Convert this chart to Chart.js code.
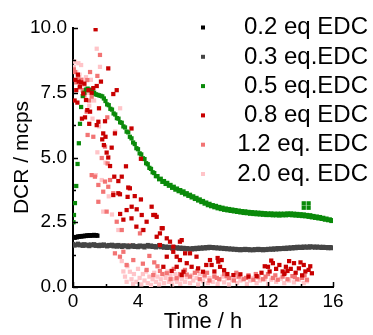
<!DOCTYPE html>
<html>
<head>
<meta charset="utf-8">
<script src="https://cdn.jsdelivr.net/npm/chart.js@4.4.1/dist/chart.umd.min.js"></script>
<style>
  html, body { margin: 0; padding: 0; background: #fff; }
  #dcrChart { display: block; }
</style>
</head>
<body>
<canvas id="dcrChart" width="373" height="335"></canvas>
<script>
// Series names and colours
const seriesLabels = ["0.2 eq EDC", "0.3 eq.EDC", "0.5 eq.EDC", "0.8 eq EDC", "1.2 eq. EDC", "2.0 eq. EDC"];
const seriesColors = ["#000000", "#454545", "#0a8a0a", "#c80000", "#f27474", "#ffc4c8"];

// Axis ticks
const xTicks = [0, 4, 8, 12, 16];
const xTickLabels = ["0", "4", "8", "12", "16"];
const xMinorTicks = [2, 6, 10, 14];
const yTicks = [0, 2.5, 5, 7.5, 10];
const yTickLabels = ["0.0", "2.5", "5.0", "7.5", "10.0"];
const yMinorTicks = [1.25, 3.75, 6.25, 8.75];

// [time (h), DCR (mcps)]
const edc02 = [
  [0.10,1.90],[0.17,1.93],[0.24,1.92],[0.31,1.95],[0.38,1.94],[0.45,1.96],[0.52,1.95],[0.59,1.97],[0.66,1.96],[0.73,1.98],
  [0.80,1.97],[0.87,1.99],[0.94,1.98],[1.01,2.00],[1.08,1.98],[1.15,2.00],[1.22,1.99],[1.29,2.01],[1.36,1.99],[1.43,2.00],[1.50,1.98]
];

const edc03 = [
  [0,1.66],[0.1,1.60],[0.2,1.63],[0.3,1.67],[0.4,1.61],[0.5,1.64],[0.6,1.59],[0.7,1.65],[0.8,1.60],[0.9,1.63],
  [1.0,1.58],[1.1,1.64],[1.2,1.61],[1.3,1.65],[1.4,1.59],[1.5,1.62],[1.6,1.58],[1.7,1.63],[1.8,1.59],[1.9,1.64],
  [2.0,1.60],[2.1,1.57],[2.2,1.62],[2.3,1.59],[2.4,1.63],[2.5,1.57],[2.6,1.61],[2.7,1.56],[2.8,1.62],[2.9,1.58],
  [3.0,1.55],[3.1,1.61],[3.2,1.57],[3.3,1.60],[3.4,1.54],[3.5,1.59],[3.6,1.56],[3.7,1.61],[3.8,1.55],[3.9,1.58],
  [4.0,1.54],[4.1,1.60],[4.2,1.56],[4.3,1.59],[4.4,1.53],[4.5,1.58],[4.6,1.62],[4.7,1.56],[4.8,1.60],[4.9,1.55],
  [5.0,1.58],[5.1,1.53],[5.2,1.57],[5.3,1.61],[5.4,1.54],[5.5,1.58],[5.6,1.52],[5.7,1.56],[5.8,1.51],[5.9,1.55],
  [6.0,1.52],[6.1,1.49],[6.2,1.54],[6.3,1.50],[6.4,1.53],[6.5,1.48],[6.6,1.52],[6.7,1.47],[6.8,1.51],[6.9,1.46],
  [7.0,1.50],[7.1,1.46],[7.2,1.49],[7.3,1.45],[7.4,1.50],[7.5,1.46],[7.6,1.51],[7.7,1.47],[7.8,1.52],[7.9,1.48],
  [8.0,1.53],[8.1,1.49],[8.2,1.54],[8.3,1.50],[8.4,1.55],[8.5,1.51],[8.6,1.54],[8.7,1.50],[8.8,1.53],[8.9,1.49],
  [9.0,1.52],[9.1,1.48],[9.2,1.51],[9.3,1.47],[9.4,1.50],[9.5,1.46],[9.6,1.49],[9.7,1.45],[9.8,1.48],[9.9,1.44],
  [10.0,1.47],[10.1,1.43],[10.2,1.46],[10.3,1.42],[10.4,1.46],[10.5,1.43],[10.6,1.47],[10.7,1.43],[10.8,1.46],[10.9,1.42],
  [11.0,1.45],[11.1,1.42],[11.2,1.46],[11.3,1.43],[11.4,1.47],[11.5,1.43],[11.6,1.46],[11.7,1.42],[11.8,1.46],[11.9,1.43],
  [12.0,1.47],[12.1,1.44],[12.2,1.48],[12.3,1.44],[12.4,1.49],[12.5,1.45],[12.6,1.50],[12.7,1.46],[12.8,1.50],[12.9,1.47],
  [13.0,1.51],[13.1,1.47],[13.2,1.52],[13.3,1.48],[13.4,1.53],[13.5,1.49],[13.6,1.54],[13.7,1.50],[13.8,1.55],[13.9,1.51],
  [14.0,1.55],[14.1,1.51],[14.2,1.56],[14.3,1.52],[14.4,1.56],[14.5,1.52],[14.6,1.57],[14.7,1.53],[14.8,1.56],[14.9,1.52],
  [15.0,1.56],[15.1,1.52],[15.2,1.55],[15.3,1.51],[15.4,1.55],[15.5,1.51],[15.6,1.54],[15.7,1.50],[15.8,1.54],[15.9,1.50],[16.0,1.53]
];

const edc05 = [
  [0.03,2.50],[0.06,2.78],[0.12,3.24],[0.20,3.90],[0.28,4.75],[0.36,5.55],[0.43,6.30],[0.50,6.95],[0.60,7.37],[0.70,7.50],
  [0.80,7.62],[0.90,7.66],[1.00,7.60],[1.10,7.62],[1.20,7.55],[1.30,7.50],[1.40,7.44],[1.50,7.42],[1.60,7.40],[1.70,7.38],
  [1.80,7.36],[1.90,7.28],
  [2.0,7.18],[2.1,7.05],[2.2,7.02],[2.3,6.88],[2.4,6.85],[2.5,6.70],[2.6,6.66],[2.7,6.52],[2.8,6.50],[2.9,6.36],
  [3.0,6.34],[3.1,6.20],[3.2,6.16],[3.3,6.00],[3.4,5.97],[3.5,5.80],[3.6,5.74],[3.7,5.58],[3.8,5.52],[3.9,5.36],
  [4.0,5.32],[4.1,5.16],[4.2,5.12],[4.3,4.97],[4.4,4.94],[4.5,4.78],[4.6,4.74],[4.7,4.60],[4.8,4.56],[4.9,4.43],
  [5.0,4.40],[5.1,4.28],[5.2,4.28],[5.3,4.16],[5.4,4.18],[5.5,4.06],[5.6,4.09],[5.7,3.98],[5.8,4.02],[5.9,3.91],
  [6.0,3.94],[6.1,3.83],[6.2,3.87],[6.3,3.76],[6.4,3.80],[6.5,3.70],[6.6,3.74],[6.7,3.64],[6.8,3.69],[6.9,3.58],
  [7.0,3.62],[7.1,3.52],[7.2,3.56],[7.3,3.46],[7.4,3.50],[7.5,3.40],[7.6,3.44],[7.7,3.34],[7.8,3.38],[7.9,3.28],
  [8.0,3.32],[8.1,3.22],[8.2,3.26],[8.3,3.16],[8.4,3.21],[8.5,3.12],[8.6,3.16],[8.7,3.08],[8.8,3.13],[8.9,3.04],
  [9.0,3.09],[9.1,3.01],[9.2,3.06],[9.3,2.98],[9.4,3.03],[9.5,2.96],[9.6,3.01],[9.7,2.94],[9.8,2.99],[9.9,2.92],
  [10.0,2.97],[10.1,2.90],[10.2,2.95],[10.3,2.88],[10.4,2.93],[10.5,2.86],[10.6,2.92],[10.7,2.85],[10.8,2.90],[10.9,2.83],
  [11.0,2.89],[11.1,2.82],[11.2,2.88],[11.3,2.81],[11.4,2.87],[11.5,2.80],[11.6,2.86],[11.7,2.79],[11.8,2.85],[11.9,2.78],
  [12.0,2.84],[12.1,2.78],[12.2,2.84],[12.3,2.77],[12.4,2.83],[12.5,2.77],[12.6,2.83],[12.7,2.76],[12.8,2.83],[12.9,2.77],
  [13.0,2.83],[13.1,2.77],[13.2,2.84],[13.3,2.78],[13.4,2.84],[13.5,2.77],[13.6,2.83],[13.7,2.76],[13.8,2.82],[13.9,2.75],
  [14.0,2.81],[14.1,2.74],[14.2,2.80],[14.3,2.73],[14.4,2.78],[14.5,2.71],[14.6,2.77],[14.7,2.69],[14.8,2.74],[14.9,2.67],
  [15.0,2.72],[15.1,2.65],[15.2,2.70],[15.3,2.63],[15.4,2.67],[15.5,2.60],[15.6,2.64],[15.7,2.58],[15.8,2.61],[15.9,2.55],[16.0,2.58],
  [14.2,3.23],[14.5,3.23],[14.2,3.06],[14.5,3.06]
];

const edc08 = [
  [0.10,7.20],[0.15,8.00],[0.20,7.60],[0.27,7.12],[0.30,8.20],[0.35,7.93],[0.43,7.74],[0.50,7.90],[0.55,6.50],[0.63,7.47],
  [0.70,7.85],[0.74,6.55],[0.80,7.22],[0.88,6.83],[0.95,7.60],[1.00,6.30],[1.05,6.77],[1.15,7.50],[1.25,7.68],[1.39,9.95],
  [1.46,7.76],[1.46,6.25],[1.56,6.38],[1.60,6.90],[1.72,7.93],[1.80,5.70],[1.86,5.93],[1.90,5.48],[1.97,6.40],[2.00,5.80],
  [2.07,5.19],[2.17,5.00],[2.17,8.44],[2.28,4.67],[2.38,5.38],[2.48,7.45],[2.48,3.55],[2.54,4.26],[2.58,5.93],[2.69,7.60],
  [2.79,4.09],[2.79,3.62],[2.89,3.58],[2.90,2.82],[3.00,4.26],[3.10,2.60],[3.26,4.66],[3.30,2.97],[3.36,3.48],[3.40,3.84],
  [3.50,3.81],[3.60,6.12],[3.61,3.10],[3.60,2.65],[3.80,3.51],[3.90,2.33],[3.92,3.00],[4.18,4.95],[4.18,3.38],[4.23,2.78],
  [4.33,2.20],[4.53,2.52],[4.84,3.10],[4.94,2.78],[5.05,2.78],[5.15,2.71],[5.15,1.94],[5.35,2.07],[5.35,1.62],[5.46,2.27],
  [5.52,2.27],[5.56,0.78],[5.77,1.88],[5.77,1.17],[5.97,1.75],[6.07,0.62],[6.17,1.56],[6.17,1.36],[6.38,1.17],[6.38,0.78],
  [6.58,1.75],[6.58,1.04],[6.69,1.81],[6.69,0.46],[6.80,0.59],[6.90,1.30],[7.00,0.92],[7.20,1.30],[7.30,0.78],[7.60,1.17],
  [7.70,0.72],[8.00,0.59],[8.20,0.85],[8.43,1.04],[8.53,0.85],[8.70,0.60],[8.90,1.12],[8.94,0.98],[9.05,0.78],[9.15,1.04],
  [9.30,0.65],[9.50,0.50],[9.87,0.46],[10.30,0.49],[10.80,0.40],[11.30,0.42],[11.60,0.55],[11.80,0.80],[12.00,0.78],[12.10,0.60],
  [12.30,0.92],[12.50,0.70],[12.70,0.85],[12.90,0.60],[13.00,0.50],[13.10,0.78],[13.30,1.00],[13.40,0.70],[13.60,0.92],[13.70,0.55],
  [13.90,0.72],[14.00,0.95],[14.10,0.45],[14.20,0.85],[14.30,0.60],[14.50,0.66],[14.60,0.80],[14.70,0.53],[12.20,1.02],[13.20,0.62]
];

const edc12 = [
  [0.05,8.40],[0.12,8.30],[0.20,7.90],[0.33,8.10],[0.40,7.70],[0.50,8.00],[0.60,7.60],[0.70,7.40],[0.84,6.77],[0.88,7.99],
  [0.90,5.87],[1.00,7.20],[1.05,8.30],[1.15,7.35],[1.15,4.32],[1.25,5.80],[1.35,4.26],[1.50,8.15],[1.56,3.29],[1.56,3.94],
  [1.66,8.96],[1.77,4.98],[1.86,3.68],[1.97,5.42],[1.97,4.07],[2.07,2.91],[2.11,6.55],[2.13,4.77],[2.17,3.87],[2.28,4.13],
  [2.48,3.62],[2.58,1.30],[2.69,2.52],[2.89,1.17],[3.00,2.20],[3.10,1.36],[3.30,0.85],[3.50,1.60],[3.71,1.04],[3.92,1.56],
  [4.12,2.07],[4.30,0.90],[4.53,0.66],[4.70,1.20],[4.94,0.46],[5.20,0.80],[5.50,0.50],[5.77,0.53],[6.00,0.30],[6.38,0.34],
  [6.60,0.50],[6.89,0.66],[7.20,0.40],[7.50,0.55],[7.80,0.30],[8.10,0.45],[8.40,0.25],[8.70,0.40],[9.00,0.30],[9.30,0.50],
  [9.60,0.35],[9.90,0.25],[10.20,0.40],[10.50,0.30],[10.80,0.45],[11.10,0.28],[11.40,0.38],[11.70,0.30],[12.00,0.50],[12.30,0.35],
  [12.60,0.28],[12.90,0.40],[13.20,0.30],[13.50,0.42],[13.80,0.30],[14.10,0.35],[14.40,0.28],
  [5.00,0.95],[5.35,0.62],[6.20,0.70],[7.00,0.48],[7.65,0.62],[8.25,0.55],[8.85,0.35],[9.45,0.42],[10.05,0.55],[10.65,0.35],
  [11.25,0.50],[11.85,0.40],[12.45,0.45],[13.05,0.55],[13.65,0.38],[14.25,0.45]
];

const edc20 = [
  [0.05,8.50],[0.12,8.70],[0.20,8.30],[0.33,8.64],[0.40,8.20],[0.50,8.57],[0.60,8.00],[0.70,7.80],[0.80,8.10],[0.90,7.50],
  [1.00,7.00],[1.10,8.00],[1.20,6.50],[1.30,7.20],[1.40,4.32],[1.46,9.20],[1.50,5.20],[1.60,6.20],[1.66,8.50],[1.77,4.13],
  [1.86,2.91],[2.00,4.80],[2.20,3.50],[2.40,2.80],[2.60,6.00],[2.79,2.20],[2.90,6.90],[2.90,1.60],
  [3.0,1.00],[3.1,0.60],[3.2,0.40],[3.3,0.20],[3.35,0.80],[3.5,0.59],[3.6,0.30],[3.7,0.12],[3.75,0.50],[3.9,0.20],
  [4.0,0.70],[4.1,0.35],[4.2,0.10],[4.23,2.20],[4.3,0.50],[4.4,0.25],[4.5,0.60],[4.6,0.15],[4.7,0.40],[4.8,0.08],
  [4.9,0.30],[5.0,0.55],[5.1,0.20],[5.2,0.40],[5.3,0.10],[5.4,0.30],[5.5,0.50],[5.6,0.15],[5.7,0.35],[5.8,0.60],
  [5.9,0.20],[6.0,0.45],[6.1,0.10],[6.2,0.30],[6.3,0.50],[6.4,0.20],[6.5,0.40],[6.6,0.12],[6.7,0.30],[6.8,0.55],
  [6.9,0.20],[7.0,0.38],[7.2,0.15],[7.3,0.45],[7.4,0.25],[7.6,0.35],[7.7,0.10],[7.8,0.50],[8.0,0.22],[8.1,0.40],
  [8.3,0.15],[8.4,0.35],[8.6,0.20],[8.7,0.45],[8.9,0.12],[9.0,0.30],[9.2,0.40],[9.3,0.18],[9.5,0.33],[9.6,0.10],
  [9.8,0.28],[10.0,0.38],[10.1,0.15],[10.3,0.25],[10.5,0.32],[10.7,0.12],[10.9,0.25],[11.1,0.35],[11.3,0.15],[11.5,0.25],
  [11.8,0.30],[12.0,0.12],[12.2,0.28],[12.5,0.20],[12.8,0.32],[13.0,0.15],[13.3,0.25],[13.6,0.18],[13.9,0.28],[14.2,0.15],[14.4,0.22]
];

const seriesData = [edc02, edc03, edc05, edc08, edc12, edc20];
// drawing order: lower number ends up on top
const seriesOrder = [3, 4, 2, 1, 5, 6];

Chart.defaults.font.family = "'Liberation Sans', Arial, sans-serif";
Chart.defaults.color = "#000";

// Inward major/minor tick marks on both axes
const innerTicks = {
  id: "innerTicks",
  afterDraw(chart) {
    const { ctx, chartArea: area, scales: { x, y } } = chart;
    ctx.save();
    ctx.strokeStyle = "#000";
    ctx.lineWidth = 1.5;
    ctx.beginPath();
    xTicks.forEach((v) => {
      const px = Math.round(x.getPixelForValue(v)) + 0.5;
      ctx.moveTo(px, area.bottom);
      ctx.lineTo(px, area.bottom - 5);
    });
    xMinorTicks.forEach((v) => {
      const px = Math.round(x.getPixelForValue(v)) + 0.5;
      ctx.moveTo(px, area.bottom);
      ctx.lineTo(px, area.bottom - 3);
    });
    yTicks.forEach((v) => {
      const py = Math.round(y.getPixelForValue(v)) + 0.5;
      ctx.moveTo(area.left, py);
      ctx.lineTo(area.left + 5, py);
    });
    yMinorTicks.forEach((v) => {
      const py = Math.round(y.getPixelForValue(v)) + 0.5;
      ctx.moveTo(area.left, py);
      ctx.lineTo(area.left + 3, py);
    });
    ctx.stroke();
    ctx.restore();
  },
};

// Legend inside the plot: small squares on the left, text right aligned
const sideLegend = {
  id: "sideLegend",
  afterDraw(chart) {
    const ctx = chart.ctx;
    ctx.save();
    ctx.font = "24px 'Liberation Sans', Arial, sans-serif";
    ctx.textAlign = "right";
    ctx.textBaseline = "alphabetic";
    chart.data.datasets.forEach((ds, i) => {
      const rowY = 27.5 + i * 29.3;
      ctx.fillStyle = ds.backgroundColor;
      ctx.fillRect(201, rowY - 2, 4, 4);
      ctx.fillStyle = "#000";
      ctx.fillText(ds.label, 368, rowY + 6.7);
    });
    ctx.restore();
  },
};

const ctx = document.getElementById("dcrChart").getContext("2d");
const dcrChart = new Chart(ctx, {
  type: "scatter",
  data: {
    datasets: seriesLabels.map((label, i) => ({
      label: label,
      data: seriesData[i].map((p) => ({ x: p[0], y: p[1] })),
      backgroundColor: seriesColors[i],
      borderColor: seriesColors[i],
      borderWidth: 0,
      pointStyle: "rect",
      pointRadius: 3,
      order: seriesOrder[i],
    })),
  },
  options: {
    responsive: false,
    animation: false,
    events: [],
    layout: { padding: { left: 0, top: 28, right: 40, bottom: 0 } },
    scales: {
      x: {
        type: "linear",
        min: 0,
        max: 16,
        afterBuildTicks: (scale) => {
          scale.ticks = xTicks.map((v) => ({ value: v }));
        },
        afterFit: (scale) => {
          scale.height = 48;
        },
        ticks: {
          padding: 3,
          font: { size: 19 },
          color: "#000",
          maxRotation: 0,
          callback: (v, i) => xTickLabels[i],
        },
        grid: { display: false, drawTicks: false },
        border: { display: true, color: "#000", width: 2 },
        title: {
          display: true,
          text: "Time / h",
          font: { size: 22 },
          color: "#000",
          padding: { top: 0, bottom: 0 },
        },
      },
      y: {
        type: "linear",
        min: 0,
        max: 10,
        afterBuildTicks: (scale) => {
          scale.ticks = yTicks.map((v) => ({ value: v }));
        },
        afterFit: (scale) => {
          scale.width = 73;
        },
        ticks: {
          padding: 6,
          font: { size: 19 },
          color: "#000",
          callback: (v, i) => yTickLabels[i],
        },
        grid: { display: false, drawTicks: false },
        border: { display: true, color: "#000", width: 2 },
        title: {
          display: true,
          text: "DCR / mcps",
          font: { size: 21 },
          color: "#000",
          padding: { top: 10, bottom: 0 },
        },
      },
    },
    plugins: {
      legend: { display: false },
      tooltip: { enabled: false },
    },
  },
  plugins: [innerTicks, sideLegend],
});
</script>
</body>
</html>
